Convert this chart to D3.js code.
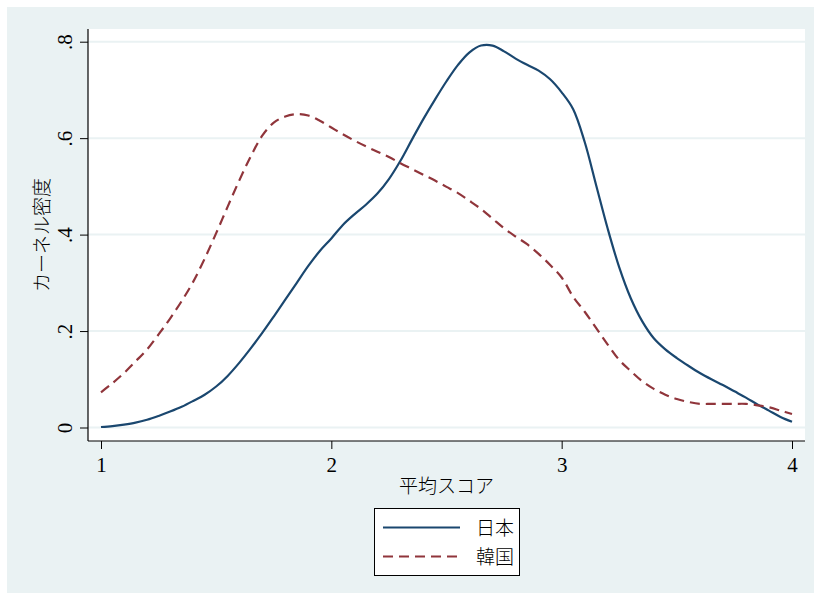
<!DOCTYPE html>
<html>
<head>
<meta charset="utf-8">
<script src="https://cdn.jsdelivr.net/npm/d3@7"></script>
<style>
  body { margin: 0; background: #fff; }
  text { font-family: "Liberation Serif", "Noto Sans CJK JP", serif; }
</style>
</head>
<body>
<div id="chart"></div>
<script>
// Kernel density values
const scores = d3.range(61).map(i => +(1 + i * 0.05).toFixed(2));

const japan = [
    0.001, 0.003, 0.006, 0.010, 0.016, 0.024, 0.033, 0.043, 0.055, 0.068,
    0.085, 0.107, 0.134, 0.164, 0.196, 0.230, 0.265, 0.300, 0.335, 0.366,
    0.392, 0.420, 0.442, 0.462, 0.485, 0.515, 0.553, 0.597, 0.640, 0.680,
    0.718, 0.752, 0.778, 0.792, 0.792, 0.780, 0.765, 0.752, 0.740, 0.722,
    0.695, 0.660, 0.592, 0.502, 0.412, 0.332, 0.268, 0.220, 0.185, 0.162,
    0.144, 0.128, 0.113, 0.100, 0.088, 0.075, 0.062, 0.048, 0.035, 0.022,
    0.012
];

const korea = [
    0.073, 0.092, 0.113, 0.137, 0.162, 0.193, 0.226, 0.262, 0.302, 0.350,
    0.403, 0.458, 0.512, 0.562, 0.605, 0.632, 0.645, 0.650, 0.647, 0.636,
    0.622, 0.608, 0.595, 0.583, 0.572, 0.561, 0.548, 0.536, 0.524, 0.512,
    0.499, 0.486, 0.470, 0.453, 0.433, 0.413, 0.396, 0.380, 0.360, 0.337,
    0.311, 0.271, 0.240, 0.206, 0.172, 0.140, 0.117, 0.096, 0.080, 0.068,
    0.059, 0.053, 0.049, 0.049, 0.049, 0.049, 0.049, 0.046, 0.042, 0.035,
    0.028
];

const xTicks = [1, 2, 3, 4];
const yTicks = [0, 0.2, 0.4, 0.6, 0.8];
const yTickLabels = ["0", ".2", ".4", ".6", ".8"];
const seriesNames = ["日本", "韓国"];

const width = 821;
const height = 600;

const svg = d3.select("#chart")
    .append("svg")
    .attr("width", width)
    .attr("height", height);

// outer background
svg.append("rect")
    .attr("x", 7).attr("y", 7)
    .attr("width", 807).attr("height", 586)
    .attr("fill", "#eaf2f3");

// plot region
const plot = { left: 88, right: 805, top: 29, bottom: 441 };
svg.append("rect")
    .attr("x", plot.left).attr("y", plot.top)
    .attr("width", plot.right - plot.left)
    .attr("height", plot.bottom - plot.top)
    .attr("fill", "#fff");

const x = d3.scaleLinear().domain([1, 4]).range([101, 792]);
const y = d3.scaleLinear().domain([0, 0.8]).range([427.5, 41.7]);

// gridlines
svg.append("g")
    .selectAll("line")
    .data(yTicks)
    .enter().append("line")
    .attr("x1", plot.left).attr("x2", plot.right)
    .attr("y1", d => y(d)).attr("y2", d => y(d))
    .attr("stroke", "#eaf2f3")
    .attr("stroke-width", 2);

// axes
const yAxis = svg.append("g")
    .attr("transform", `translate(${plot.left},0)`)
    .call(d3.axisLeft(y).tickValues(yTicks).tickSize(8).tickFormat((d, i) => yTickLabels[i]));
yAxis.select(".domain").attr("d", `M0,${plot.top}V${plot.bottom}`).attr("stroke", "#000");
yAxis.selectAll(".tick line").attr("stroke", "#000");
yAxis.selectAll(".tick text")
    .attr("x", null).attr("dy", null)
    .attr("text-anchor", "middle")
    .attr("transform", "translate(-16,0) rotate(-90)")
    .attr("font-size", 21)
    .attr("fill", "#000");

const xAxis = svg.append("g")
    .attr("transform", `translate(0,${plot.bottom})`)
    .call(d3.axisBottom(x).tickValues(xTicks).tickSize(8).tickFormat(d3.format("d")));
xAxis.select(".domain").attr("d", `M${plot.left},0H${plot.right}`).attr("stroke", "#000");
xAxis.selectAll(".tick line").attr("stroke", "#000");
xAxis.selectAll(".tick text")
    .attr("y", 31).attr("dy", null)
    .attr("font-size", 21)
    .attr("fill", "#000");
svg.selectAll(".domain").attr("stroke-width", 1.2);

// axis titles
svg.append("text")
    .attr("x", (plot.left + plot.right) / 2)
    .attr("y", 493)
    .attr("text-anchor", "middle")
    .attr("font-size", 19)
    .attr("font-family", "Noto Sans CJK JP")
    .attr("font-weight", 300)
    .text("平均スコア");

svg.append("text")
    .attr("transform", "translate(49,235) rotate(-90)")
    .attr("text-anchor", "middle")
    .attr("font-size", 19)
    .attr("font-family", "Noto Sans CJK JP")
    .attr("font-weight", 300)
    .text("カーネル密度");

// lines
const line = d3.line()
    .x((d, i) => x(scores[i]))
    .y(d => y(d))
    .curve(d3.curveCatmullRom);

svg.append("path")
    .attr("d", line(japan))
    .attr("fill", "none")
    .attr("stroke", "#1a476f")
    .attr("stroke-width", 2.2);

svg.append("path")
    .attr("d", line(korea))
    .attr("fill", "none")
    .attr("stroke", "#90353b")
    .attr("stroke-width", 2.2)
    .attr("stroke-dasharray", "10,6");

// legend
svg.append("rect")
    .attr("x", 374.5).attr("y", 508.5)
    .attr("width", 145).attr("height", 67)
    .attr("fill", "#fff")
    .attr("stroke", "#000")
    .attr("stroke-width", 1);

const legendItems = [
    { name: seriesNames[0], color: "#1a476f", dash: null, y: 527.5 },
    { name: seriesNames[1], color: "#90353b", dash: "10,6", y: 556.5 }
];
legendItems.forEach(item => {
    svg.append("line")
        .attr("x1", 383).attr("x2", 460)
        .attr("y1", item.y).attr("y2", item.y)
        .attr("stroke", item.color)
        .attr("stroke-width", 2.2)
        .attr("stroke-dasharray", item.dash);
    svg.append("text")
        .attr("x", 476).attr("y", item.y + 7)
        .attr("font-size", 19)
        .attr("font-family", "Noto Sans CJK JP")
        .attr("font-weight", 300)
        .text(item.name);
});
</script>
</body>
</html>
